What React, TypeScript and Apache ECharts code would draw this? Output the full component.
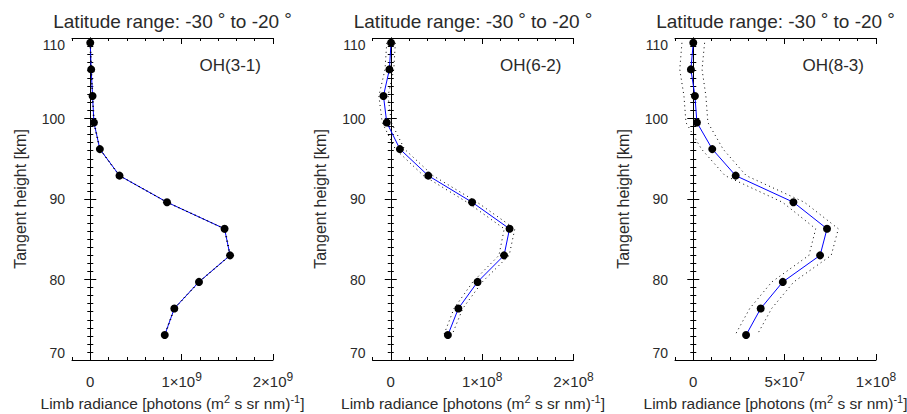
import React, { useEffect, useRef } from 'react';
import * as echarts from 'echarts';

// Tangent heights [km] shared by all three profiles
const HEIGHTS = [109.4, 106.1, 102.8, 99.5, 96.2, 92.9, 89.6, 86.3, 83.0, 79.7, 76.4, 73.1];

// OH(3-1) limb radiance and uncertainty
const OH31 = [0.0, 0.01e9, 0.025e9, 0.04e9, 0.105e9, 0.32e9, 0.84e9, 1.47e9, 1.53e9, 1.19e9, 0.92e9, 0.815e9];
const OH31_ERR = [0.004e9, 0.004e9, 0.004e9, 0.004e9, 0.004e9, 0.004e9, 0.005e9, 0.005e9, 0.005e9, 0.005e9, 0.004e9, 0.004e9];

// OH(6-2)
const OH62 = [0.003e8, -0.015e8, -0.08e8, -0.044e8, 0.1e8, 0.41e8, 0.89e8, 1.3e8, 1.24e8, 0.95e8, 0.74e8, 0.625e8];
const OH62_ERR = [0.047e8, 0.048e8, 0.05e8, 0.05e8, 0.05e8, 0.052e8, 0.055e8, 0.058e8, 0.056e8, 0.052e8, 0.048e8, 0.045e8];

// OH(8-3)
const OH83 = [0, -0.13e7, 0.09e7, 0.2e7, 1.04e7, 2.32e7, 5.48e7, 7.32e7, 6.94e7, 4.9e7, 3.69e7, 2.89e7];
const OH83_ERR = [0.62e7, 0.61e7, 0.6e7, 0.6e7, 0.59e7, 0.58e7, 0.6e7, 0.62e7, 0.61e7, 0.6e7, 0.6e7, 0.6e7];

// Axis ranges / ticks
const X_MIN = [-0.2e9, -0.2e8, -1e7];
const X_MAX = [2e9, 2e8, 1e8];
const X_MINOR = [0.2e9, 0.2e8, 1e7];
const X_MAJOR = [[0, 1e9, 2e9], [0, 1e8, 2e8], [0, 5e7, 1e8]];
const Y_MIN = 70;
const Y_MAX = 110;
const Y_INTERVAL = 10;

const LABELS = ['OH(3-1)', 'OH(6-2)', 'OH(8-3)'];
const TITLE = 'Latitude range: -30{d|°} to -20{d|°}';
const Y_NAME = 'Tangent height [km]';
const X_NAME = 'Limb radiance [photons (m{s|2} s sr nm){s|-1}]';

const VALUES = [OH31, OH62, OH83];
const ERRORS = [OH31_ERR, OH62_ERR, OH83_ERR];

const FONT = '"Liberation Sans", Arial, Helvetica, sans-serif';
const TXT = '#2a2a2a';

// layout
const GRID_LEFT = [72, 372.5, 675];
const GRID_W = 201;
const GRID_TOP = 38;
const GRID_H = 322;

function sci(v: number): string {
  if (v === 0) return '{b|0}';
  const e = Math.floor(Math.log10(Math.abs(v)) + 1e-9);
  const m = Math.round(v / Math.pow(10, e));
  return `{b|${m}×10}{s|${e}}`;
}

const labelRich = {
  b: { fontSize: 15, lineHeight: 15, padding: [6, 0, 0, 0], color: TXT, fontFamily: FONT },
  s: { fontSize: 12, lineHeight: 12, verticalAlign: 'top', color: TXT, fontFamily: FONT },
};

const nameRich = {
  b: { fontSize: 15.5, lineHeight: 15, padding: [5, 0, 0, 0], color: TXT, fontFamily: FONT },
  s: { fontSize: 11, lineHeight: 11, verticalAlign: 'top', color: TXT, fontFamily: FONT },
};

function buildOption() {
  const grid: any[] = [];
  const xAxis: any[] = [];
  const yAxis: any[] = [];
  const series: any[] = [];
  const title: any[] = [];

  for (let i = 0; i < 3; i++) {
    grid.push({
      left: GRID_LEFT[i],
      top: GRID_TOP,
      width: GRID_W,
      height: GRID_H,
      containLabel: false,
      outerBoundsMode: 'none',
    });
    const common = { gridIndex: i, type: 'value', min: X_MIN[i], max: X_MAX[i], splitLine: { show: false } };
    // bottom: minor ticks + labels + name
    xAxis.push({
      ...common,
      position: 'bottom',
      interval: X_MINOR[i],
      axisLine: { show: true, lineStyle: { color: '#000', width: 1 } },
      axisTick: { show: true, inside: true, length: 3, lineStyle: { color: '#000', width: 1 } },
      axisLabel: {
        show: true,
        customValues: X_MAJOR[i],
        margin: 11,
        formatter: (v: number) => sci(v),
        rich: labelRich,
      },
      name: '{b|' + X_NAME.replace(/\{s\|([^}]*)\}/g, '}{s|$1}{b|') + '}',
      nameLocation: 'middle',
      nameGap: 33,
      nameMoveOverlap: false,
      nameTextStyle: { rich: nameRich },
    });
    // bottom: major ticks
    xAxis.push({
      ...common,
      position: 'bottom',
      axisLine: { show: false },
      axisTick: { show: true, inside: true, length: 6, customValues: X_MAJOR[i], lineStyle: { color: '#000', width: 1 } },
      axisLabel: { show: false },
    });
    // top: minor ticks
    xAxis.push({
      ...common,
      position: 'top',
      interval: X_MINOR[i],
      axisLine: { show: true, lineStyle: { color: '#000', width: 1 } },
      axisTick: { show: true, inside: true, length: 3, lineStyle: { color: '#000', width: 1 } },
      axisLabel: { show: false },
    });
    // top: major ticks
    xAxis.push({
      ...common,
      position: 'top',
      axisLine: { show: false },
      axisTick: { show: true, inside: true, length: 6, customValues: X_MAJOR[i], lineStyle: { color: '#000', width: 1 } },
      axisLabel: { show: false },
    });

    const ycommon = {
      gridIndex: i,
      type: 'value',
      min: Y_MIN,
      max: Y_MAX,
      interval: Y_INTERVAL,
      splitLine: { show: false },
      axisLine: { show: true, lineStyle: { color: '#000', width: 1 } },
      axisTick: { show: true, inside: true, length: 6, lineStyle: { color: '#000', width: 1 } },
      minorTick: { show: true, splitNumber: 10, length: 3, lineStyle: { color: '#000', width: 1 } },
    };
    yAxis.push({
      ...ycommon,
      position: 'left',
      axisLabel: {
        show: true,
        fontSize: 14,
        color: TXT,
        fontFamily: FONT,
        margin: 7,
        verticalAlignMaxLabel: 'top',
        verticalAlignMinLabel: 'bottom',
      },
      name: Y_NAME,
      nameLocation: 'middle',
      nameGap: 44,
      nameMoveOverlap: false,
      nameTextStyle: { fontSize: 16, color: TXT, fontFamily: FONT },
    });
    yAxis.push({
      ...ycommon,
      position: 'right',
      axisLabel: { show: false },
    });

    const vals = VALUES[i];
    const errs = ERRORS[i];
    const xi = i * 4;
    const yi = i * 2;
    series.push({
      type: 'line',
      xAxisIndex: xi,
      yAxisIndex: yi,
      data: HEIGHTS.map((h, k) => [vals[k], h]),
      showSymbol: false,
      lineStyle: { color: '#0000ff', width: 1 },
      z: 2,
      silent: true,
    });
    series.push({
      type: 'line',
      xAxisIndex: xi,
      yAxisIndex: yi,
      data: HEIGHTS.map((h, k) => [vals[k] - errs[k], h]),
      showSymbol: false,
      lineStyle: { color: '#000', width: 1, type: [1, 3.5] },
      z: 3,
      silent: true,
    });
    series.push({
      type: 'line',
      xAxisIndex: xi,
      yAxisIndex: yi,
      data: HEIGHTS.map((h, k) => [vals[k] + errs[k], h]),
      showSymbol: false,
      lineStyle: { color: '#000', width: 1, type: [1, 3.5] },
      z: 3,
      silent: true,
    });
    series.push({
      type: 'scatter',
      xAxisIndex: xi,
      yAxisIndex: yi,
      data: HEIGHTS.map((h, k) => [vals[k], h]),
      symbol: 'circle',
      symbolSize: 8,
      itemStyle: { color: '#000', opacity: 1 },
      z: 4,
      silent: true,
    });

    title.push({
      text: TITLE,
      left: GRID_LEFT[i] + GRID_W / 2,
      top: 10,
      textAlign: 'center',
      padding: 0,
      textStyle: {
        fontSize: 19,
        fontWeight: 'normal',
        color: TXT,
        fontFamily: FONT,
        rich: { d: { fontSize: 19, color: TXT, fontFamily: FONT, padding: [0, 0, 4, 5] } },
      },
    });
    title.push({
      text: LABELS[i],
      left: GRID_LEFT[i] + GRID_W - 12,
      top: 57,
      textAlign: 'right',
      padding: 0,
      textStyle: { fontSize: 17, fontWeight: 'normal', color: TXT, fontFamily: FONT },
    });
  }

  return {
    animation: false,
    backgroundColor: '#fff',
    title,
    grid,
    xAxis,
    yAxis,
    series,
  };
}

export default function App() {
  const ref = useRef<HTMLDivElement>(null);
  useEffect(() => {
    if (!ref.current) return;
    const chart = echarts.init(ref.current, undefined, { renderer: 'svg' });
    chart.setOption(buildOption() as any);
    return () => chart.dispose();
  }, []);
  return (
    <div
      ref={ref}
      style={{ position: 'fixed', left: 0, top: 0, width: 907, height: 414, background: '#fff' }}
    />
  );
}
